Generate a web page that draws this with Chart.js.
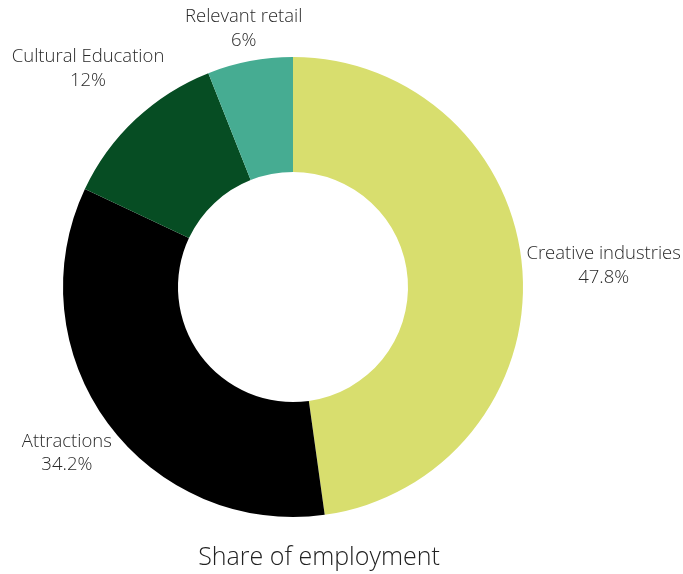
<!DOCTYPE html>
<html>
<head>
<meta charset="utf-8">
<script src="https://cdn.jsdelivr.net/npm/chart.js@4/dist/chart.umd.min.js"></script>
<style>
  html, body { margin: 0; padding: 0; background: #ffffff; }
  #wrap { width: 683px; height: 574px; }
</style>
</head>
<body>
<div id="wrap"><canvas id="chart" width="683" height="574"></canvas></div>
<script>
// Share of employment by sub-sector (percent)
const categories = ['Creative industries', 'Attractions', 'Cultural Education', 'Relevant retail'];
const shares = [47.8, 34.2, 12, 6];
const sliceColors = ['#d8de6e', '#000000', '#064d23', '#46ac92'];
const chartTitle = 'Share of employment';

const FONT = '"Open Sans", Lato, sans-serif';
const LABEL_SIZE = 18.5;
const LINE_GAP = 23.5;

// Two-line outside labels: name above value, centred on the slice's mid-angle,
// pushed out so the text block clears the ring.
const outsideLabels = {
  id: 'outsideLabels',
  afterDatasetsDraw(chart) {
    const ctx = chart.ctx;
    const meta = chart.getDatasetMeta(0);
    ctx.save();
    ctx.font = '300 ' + LABEL_SIZE + 'px ' + FONT;
    ctx.fillStyle = '#2a2a2a';
    ctx.textAlign = 'center';
    ctx.textBaseline = 'middle';
    meta.data.forEach((arc, i) => {
      const mid = (arc.startAngle + arc.endAngle) / 2;
      const vx = Math.cos(mid), vy = Math.sin(mid);
      const lines = [categories[i], shares[i] + '%'];
      const w = Math.max(...lines.map(t => ctx.measureText(t).width));
      const h = LINE_GAP * 2 - 8;
      const dist = arc.outerRadius + 3 + Math.abs(vx) * w / 2 + Math.abs(vy) * h / 2;
      const cx = arc.x + vx * dist;
      const cy = arc.y + vy * dist;
      ctx.fillText(lines[0], cx, cy - LINE_GAP / 2);
      ctx.fillText(lines[1], cx, cy + LINE_GAP / 2);
    });

    // caption under the ring
    ctx.font = '300 25px ' + FONT;
    ctx.fillStyle = '#222222';
    ctx.fillText(chartTitle, 319, 558);
    ctx.restore();
  }
};

new Chart(document.getElementById('chart'), {
  type: 'doughnut',
  data: {
    labels: categories,
    datasets: [{
      data: shares,
      backgroundColor: sliceColors,
      borderWidth: 0,
      hoverOffset: 0
    }]
  },
  options: {
    responsive: false,
    animation: false,
    cutout: '50%',
    layout: { padding: { left: 63, right: 160, top: 57, bottom: 57 } },
    plugins: {
      legend: { display: false },
      tooltip: { enabled: false },
      title: { display: false }
    }
  },
  plugins: [outsideLabels]
});
</script>
</body>
</html>
